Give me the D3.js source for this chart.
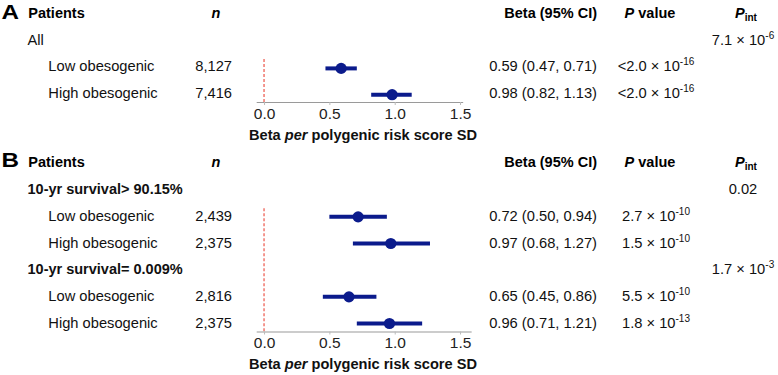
<!DOCTYPE html>
<html>
<head>
<meta charset="utf-8">
<script src="https://cdn.jsdelivr.net/npm/d3@7"></script>
<style>
  html, body { margin: 0; padding: 0; background: #fff; }
  svg { display: block; font-family: "Liberation Sans", Arial, sans-serif; }
</style>
</head>
<body>
<svg id="chart" width="778" height="375"></svg>
<script>
// ---------------- DATA ----------------
const xTicks = [0.0, 0.5, 1.0, 1.5];
const axisTitleLead = "Beta ";
const axisTitleItalic = "per";
const axisTitleTail = " polygenic risk score SD";

// Panel A
const labelsA   = ["All", "Low obesogenic", "High obesogenic"];
const isGroupA  = [true, false, false];
const nA        = ["", "8,127", "7,416"];
const betaA     = [null, 0.59, 0.98];
const lowerA    = [null, 0.47, 0.82];
const upperA    = [null, 0.71, 1.13];
const ciTextA   = ["", "0.59 (0.47, 0.71)", "0.98 (0.82, 1.13)"];
const pMantA    = ["", "<2.0 \u00d7 10", "<2.0 \u00d7 10"];
const pExpA     = ["", "-16", "-16"];
const pintMantA = ["7.1 \u00d7 10", "", ""];
const pintExpA  = ["-6", "", ""];

// Panel B
const labelsB   = ["10-yr survival> 90.15%", "Low obesogenic", "High obesogenic",
                   "10-yr survival= 0.009%", "Low obesogenic", "High obesogenic"];
const isGroupB  = [true, false, false, true, false, false];
const nB        = ["", "2,439", "2,375", "", "2,816", "2,375"];
const betaB     = [null, 0.72, 0.97, null, 0.65, 0.96];
const lowerB    = [null, 0.50, 0.68, null, 0.45, 0.71];
const upperB    = [null, 0.94, 1.27, null, 0.86, 1.21];
const ciTextB   = ["", "0.72 (0.50, 0.94)", "0.97 (0.68, 1.27)", "", "0.65 (0.45, 0.86)", "0.96 (0.71, 1.21)"];
const pMantB    = ["", "2.7 \u00d7 10", "1.5 \u00d7 10", "", "5.5 \u00d7 10", "1.8 \u00d7 10"];
const pExpB     = ["", "-10", "-10", "", "-10", "-13"];
const pintMantB = ["0.02", "", "", "1.7 \u00d7 10", "", ""];
const pintExpB  = ["", "", "", "-3", "", ""];

// ---------------- DRAWING ----------------
const svg = d3.select("#chart");
const NAVY = "#0b1b8c";
const REGULAR = 14.7, BOLD = 14.5;

function addSup(sel, mant, exp, anchor, x, y) {
  const t = sel.append("text").attr("x", x).attr("y", y)
    .attr("text-anchor", anchor).attr("font-size", REGULAR).attr("fill", "#111");
  t.append("tspan").text(mant);
  if (exp) {
    t.append("tspan").attr("dy", -6).attr("font-size", 10).text(exp);
  }
  return t;
}

function drawPanel(cfg) {
  const g = svg.append("g");
  const rows = cfg.labels.map((d, i) => i);
  const y = d3.scaleLinear().domain([0, cfg.labels.length]).range([cfg.top, cfg.top + cfg.step * cfg.labels.length]);
  const x = d3.scaleLinear().domain([-0.06, cfg.xMax]).range([256.2, 256.2 + (cfg.xMax + 0.06) * 130.67]);

  // Panel letter
  g.append("text").attr("x", 1.5).attr("y", cfg.headerY + 4.8)
    .attr("font-size", 19.5).attr("font-weight", 900)
    .attr("textLength", 17.5).attr("lengthAdjust", "spacingAndGlyphs")
    .text(cfg.letter);

  // Headers
  g.append("text").attr("x", 28.3).attr("y", cfg.headerY + 4.5)
    .attr("font-size", BOLD).attr("font-weight", "bold").text("Patients");
  g.append("text").attr("x", 216).attr("y", cfg.headerY + 4.5).attr("text-anchor", "middle")
    .attr("font-size", BOLD).attr("font-weight", "bold").attr("font-style", "italic").text("n");
  g.append("text").attr("x", 597).attr("y", cfg.headerY + 4.5).attr("text-anchor", "end")
    .attr("font-size", BOLD).attr("font-weight", "bold").text("Beta (95% CI)");
  const pv = g.append("text").attr("x", 650).attr("y", cfg.headerY + 4.5).attr("text-anchor", "middle")
    .attr("font-size", BOLD).attr("font-weight", "bold");
  pv.append("tspan").attr("font-style", "italic").text("P");
  pv.append("tspan").text(" value");
  const pi = g.append("text").attr("x", 746).attr("y", cfg.headerY + 4.5).attr("text-anchor", "middle")
    .attr("font-size", BOLD).attr("font-weight", "bold");
  pi.append("tspan").attr("font-style", "italic").text("P");
  pi.append("tspan").attr("dy", 3).attr("font-size", 10).text("int");

  // Row texts
  rows.forEach(i => {
    const cy = y(i) + cfg.step;   // row centre
    const by = cy + 5;             // text baseline
    const grp = cfg.isGroup[i];
    g.append("text")
      .attr("x", grp ? 27.5 : 48.3).attr("y", by)
      .attr("font-size", grp && cfg.boldGroups ? BOLD : REGULAR)
      .attr("font-weight", grp && cfg.boldGroups ? "bold" : "normal")
      .attr("fill", "#111")
      .text(cfg.labels[i]);
    if (cfg.n[i]) g.append("text").attr("x", 232).attr("y", by).attr("text-anchor", "end")
      .attr("font-size", REGULAR).attr("fill", "#111").text(cfg.n[i]);
    if (cfg.ci[i]) g.append("text").attr("x", 597).attr("y", by).attr("text-anchor", "end")
      .attr("font-size", REGULAR).attr("fill", "#111").text(cfg.ci[i]);
    if (cfg.pMant[i]) addSup(g, cfg.pMant[i], cfg.pExp[i], "middle", 656, by);
    if (cfg.pintMant[i]) addSup(g, cfg.pintMant[i], cfg.pintExp[i], "middle", 743, by);
  });

  // Reference line at 0
  const firstEst = cfg.beta.findIndex(v => v !== null);
  g.append("line")
    .attr("x1", x(0)).attr("x2", x(0))
    .attr("y1", y(firstEst) + cfg.step - 7.5).attr("y2", cfg.axisY)
    .attr("stroke", "#f0766d").attr("stroke-width", 1.5).attr("stroke-dasharray", "3,2");

  // Axis
  const axis = d3.axisBottom(x).tickValues(xTicks).tickFormat(d3.format(".1f"))
    .tickSize(3).tickSizeOuter(0).tickPadding(2.5);
  const ax = g.append("g").attr("transform", `translate(0,${cfg.axisY})`).call(axis);
  ax.select(".domain").attr("stroke", "#9a9a9a").attr("stroke-width", 1.2);
  ax.selectAll(".tick line").attr("stroke", "#bbbbbb");
  ax.selectAll(".tick text").attr("font-size", 15.5).attr("fill", "#222")
    .attr("font-family", "'Liberation Sans', Arial, sans-serif");

  const tt = g.append("text").attr("x", x(0.75) + 1).attr("y", cfg.axisY + 37.5)
    .attr("text-anchor", "middle").attr("font-size", 14.6).attr("font-weight", "bold").attr("fill", "#111");
  tt.append("tspan").text(axisTitleLead);
  tt.append("tspan").attr("font-style", "italic").text(axisTitleItalic);
  tt.append("tspan").text(axisTitleTail);

  // Estimates
  const est = rows.filter(i => cfg.beta[i] !== null);
  g.selectAll("line.ci").data(est).join("line").attr("class", "ci")
    .attr("x1", i => x(cfg.lower[i])).attr("x2", i => x(cfg.upper[i]))
    .attr("y1", i => y(i) + cfg.step + cfg.dotOff).attr("y2", i => y(i) + cfg.step + cfg.dotOff)
    .attr("stroke", NAVY).attr("stroke-width", 4);
  g.selectAll("circle.pt").data(est).join("circle").attr("class", "pt")
    .attr("cx", i => x(cfg.beta[i])).attr("cy", i => y(i) + cfg.step + cfg.dotOff)
    .attr("r", 5.6).attr("fill", NAVY);
}

drawPanel({
  letter: "A", headerY: 13.8, top: 13.8, step: 26.3, axisY: 102, xMax: 1.52, dotOff: 2,
  labels: labelsA, isGroup: isGroupA, boldGroups: false, n: nA,
  beta: betaA, lower: lowerA, upper: upperA, ci: ciTextA,
  pMant: pMantA, pExp: pExpA, pintMant: pintMantA, pintExp: pintExpA
});
drawPanel({
  letter: "B", headerY: 162.5, top: 162.5, step: 26.67, axisY: 331.5, xMax: 1.585, dotOff: 1,
  labels: labelsB, isGroup: isGroupB, boldGroups: true, n: nB,
  beta: betaB, lower: lowerB, upper: upperB, ci: ciTextB,
  pMant: pMantB, pExp: pExpB, pintMant: pintMantB, pintExp: pintExpB
});
</script>
</body>
</html>
